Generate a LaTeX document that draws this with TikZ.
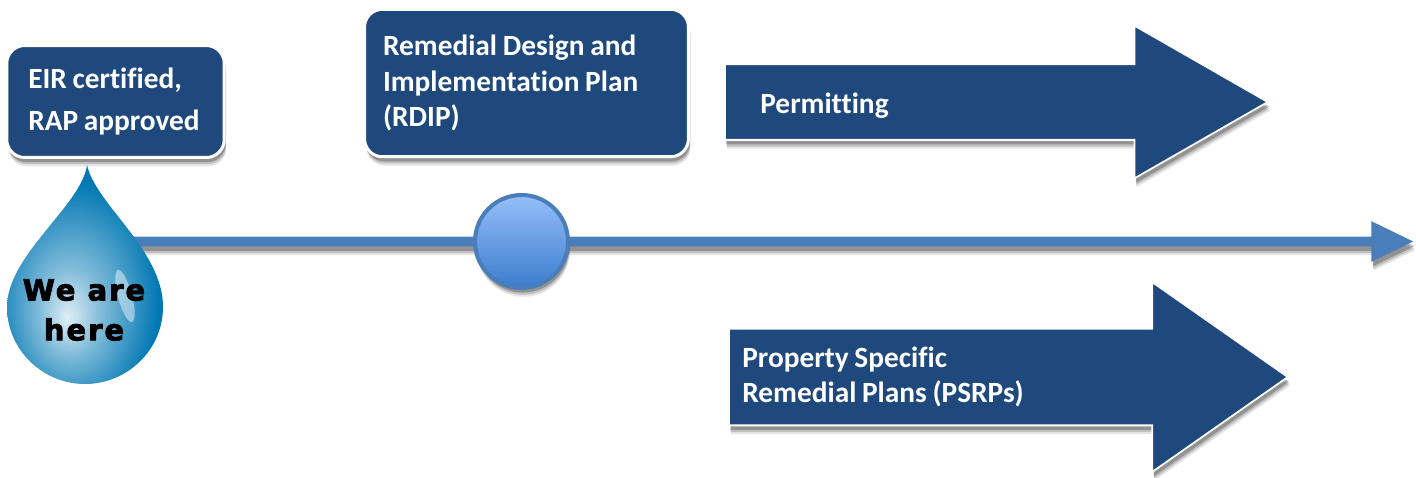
\documentclass[tikz,border=0pt]{standalone}
\usepackage{fontspec}
\setmainfont[WordSpace=0.85,Ligatures=NoCommon]{Carlito}
\newfontfamily\dropfont[FakeBold=3,LetterSpace=7]{DejaVu Sans Bold}
\usepackage{xcolor}
\usetikzlibrary{arrows.meta, positioning, shapes.arrows, shadows}
\definecolor{navy}{RGB}{31,73,125}
\definecolor{steel}{RGB}{74,126,187}
\definecolor{dropblue}{RGB}{0,119,179}
\definecolor{miletop}{RGB}{150,190,250}
\definecolor{milebot}{RGB}{60,125,205}
\pgfdeclareradialshading{dropshade}{\pgfpoint{-5.8bp}{-10bp}}{
  color(0bp)=(white!88!dropblue);
  color(10bp)=(white!50!dropblue);
  color(27bp)=(dropblue);
  color(60bp)=(dropblue)}
\begin{document}
\begin{tikzpicture}[
  x=0.02cm, y=-0.02cm,
  softshadow/.style={
    drop shadow={shadow xshift=1.2pt, shadow yshift=-5pt, opacity=.1, fill=black},
    drop shadow={shadow xshift=1pt, shadow yshift=-3.8pt, opacity=.16, fill=black},
    drop shadow={shadow xshift=.8pt, shadow yshift=-2.6pt, opacity=.24, fill=black}},
  block/.style={draw=white, line width=1.7pt, fill=navy, rounded corners=0.36cm, softshadow, text=white,
    font=\fontsize{16.7}{20}\selectfont\bfseries, align=flush left, inner sep=0pt},
  bigarrow/.style={single arrow, fill=navy, inner sep=0pt, anchor=tail, softshadow, draw=white, line width=1pt,
    text height=0pt, text depth=0pt},
  arrowtext/.style={text=white, font=\fontsize{16.7}{20}\selectfont\bfseries, align=left, inner sep=0pt, anchor=west}
]
\useasboundingbox (0,0) rectangle (1416,477);

% time line
\node[single arrow, fill=steel, inner sep=0pt, text height=0pt, text depth=0pt, inner ysep=0.09cm,
  minimum height=25.66cm, minimum width=0.8cm, single arrow head extend=0.31cm, single arrow tip angle=52,
  anchor=tail, softshadow] (line) at (130,241.5) {};

% boxes
\node[block, text width=3.49cm, minimum width=4.35cm, minimum height=2.24cm] (eir) at (115.5,101.5) {\vspace*{0.14cm}EIR certified,\\RAP approved};
\node[block, text width=5.74cm, minimum width=6.48cm, minimum height=2.95cm, font=\fontsize{16.7}{20.4}\selectfont\bfseries] (rdip) at (526.5,83) {Remedial Design and\\Implementation Plan\\(RDIP)};

% milestone
\node[circle, draw=steel, line width=2.3pt, minimum size=1.86cm, softshadow, top color=miletop, bottom color=milebot] (mile) at (521.5,241.5) {};

% arrows
\node[bigarrow, minimum height=10.86cm, minimum width=3.02cm, single arrow head extend=0.77cm,
  single arrow tip angle=59.6, inner ysep=0.74cm] (perm) at (724,102) {};
\node[arrowtext, right=0.72cm of perm.tail, yshift=-0.08cm] (permtxt) {Permitting};
\node[bigarrow, minimum height=11.18cm, minimum width=3.78cm, single arrow head extend=0.93cm,
  single arrow tip angle=70, inner ysep=0.95cm] (psrp) at (728,377) {};
\node[arrowtext, right=0.28cm of psrp.tail] (psrptxt) {Property Specific\\Remedial Plans (PSRPs)};

% drop
\path[shading=dropshade] (87,165) .. controls (96,205) and (163,250) .. (163,307)
  .. controls (163,350) and (127,384) .. (85,384)
  .. controls (43,384) and (7,350) .. (7,307)
  .. controls (7,255) and (82,205) .. (87,165) -- cycle;
\fill[white, opacity=.45, rotate around={15:(125,296)}] (125,296) ellipse (7 and 27);
\node[font=\dropfont\fontsize{16.5}{22.7}\selectfont, align=center, inner sep=0pt, text=black] (here) at (84,310) {We are\\here};
\end{tikzpicture}
\end{document}
